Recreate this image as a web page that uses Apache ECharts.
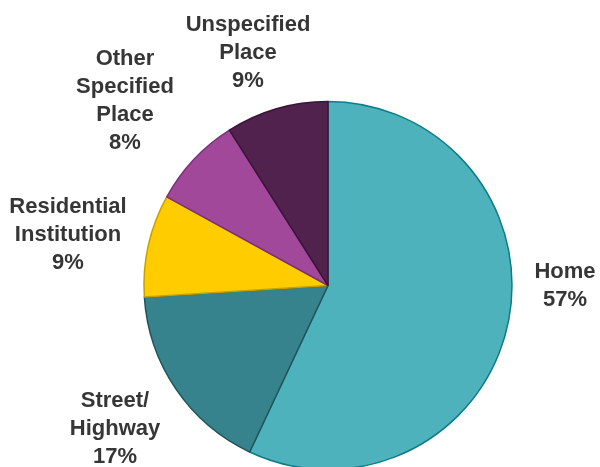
<!DOCTYPE html>
<html>
<head>
<meta charset="utf-8">
<script src="https://cdn.jsdelivr.net/npm/echarts@6/dist/echarts.min.js"></script>
<style>
  html, body { margin: 0; padding: 0; background: #ffffff; }
  #chart { width: 600px; height: 467px; }
</style>
</head>
<body>
<div id="chart"></div>
<script>
// Place of occurrence, share of cases (percent)
const categories = ['Home', 'Street/\nHighway', 'Residential\nInstitution', 'Other\nSpecified\nPlace', 'Unspecified\nPlace'];
const shares = [57, 17, 9, 8, 9];

// Slice fills and outlines
const fillColors = ['#4EB2BD', '#36838D', '#FFCC00', '#A1489A', '#52224F'];
const edgeColors = ['#0B7D86', '#22535A', '#C8A000', '#7B3177', '#3B1538'];

// Label anchor points (text centres) around the pie
const labelAnchors = [[565, 286], [115, 429], [68, 235], [125, 101], [248, 53]];

const chart = echarts.init(document.getElementById('chart'), null, { renderer: 'canvas' });

chart.setOption({
  animation: false,
  backgroundColor: '#ffffff',
  series: [{
    type: 'pie',
    center: [328, 285.5],
    radius: [0, 184],
    startAngle: 90,
    clockwise: true,
    percentPrecision: 0,
    avoidLabelOverlap: false,
    data: categories.map((name, i) => ({
      name: name,
      value: shares[i],
      itemStyle: { color: fillColors[i], borderColor: edgeColors[i], borderWidth: 1.5 }
    })),
    label: {
      show: true,
      position: 'outside',
      formatter: '{b}\n{d}%',
      fontFamily: 'Liberation Sans, Arial, sans-serif',
      fontWeight: 'bold',
      fontSize: 22,
      lineHeight: 28,
      color: '#363636',
      align: 'center'
    },
    labelLine: { show: false },
    labelLayout: function (params) {
      const p = labelAnchors[params.dataIndex];
      return { x: p[0], y: p[1], align: 'center', verticalAlign: 'middle' };
    },
    emphasis: { disabled: true }
  }]
});
</script>
</body>
</html>
